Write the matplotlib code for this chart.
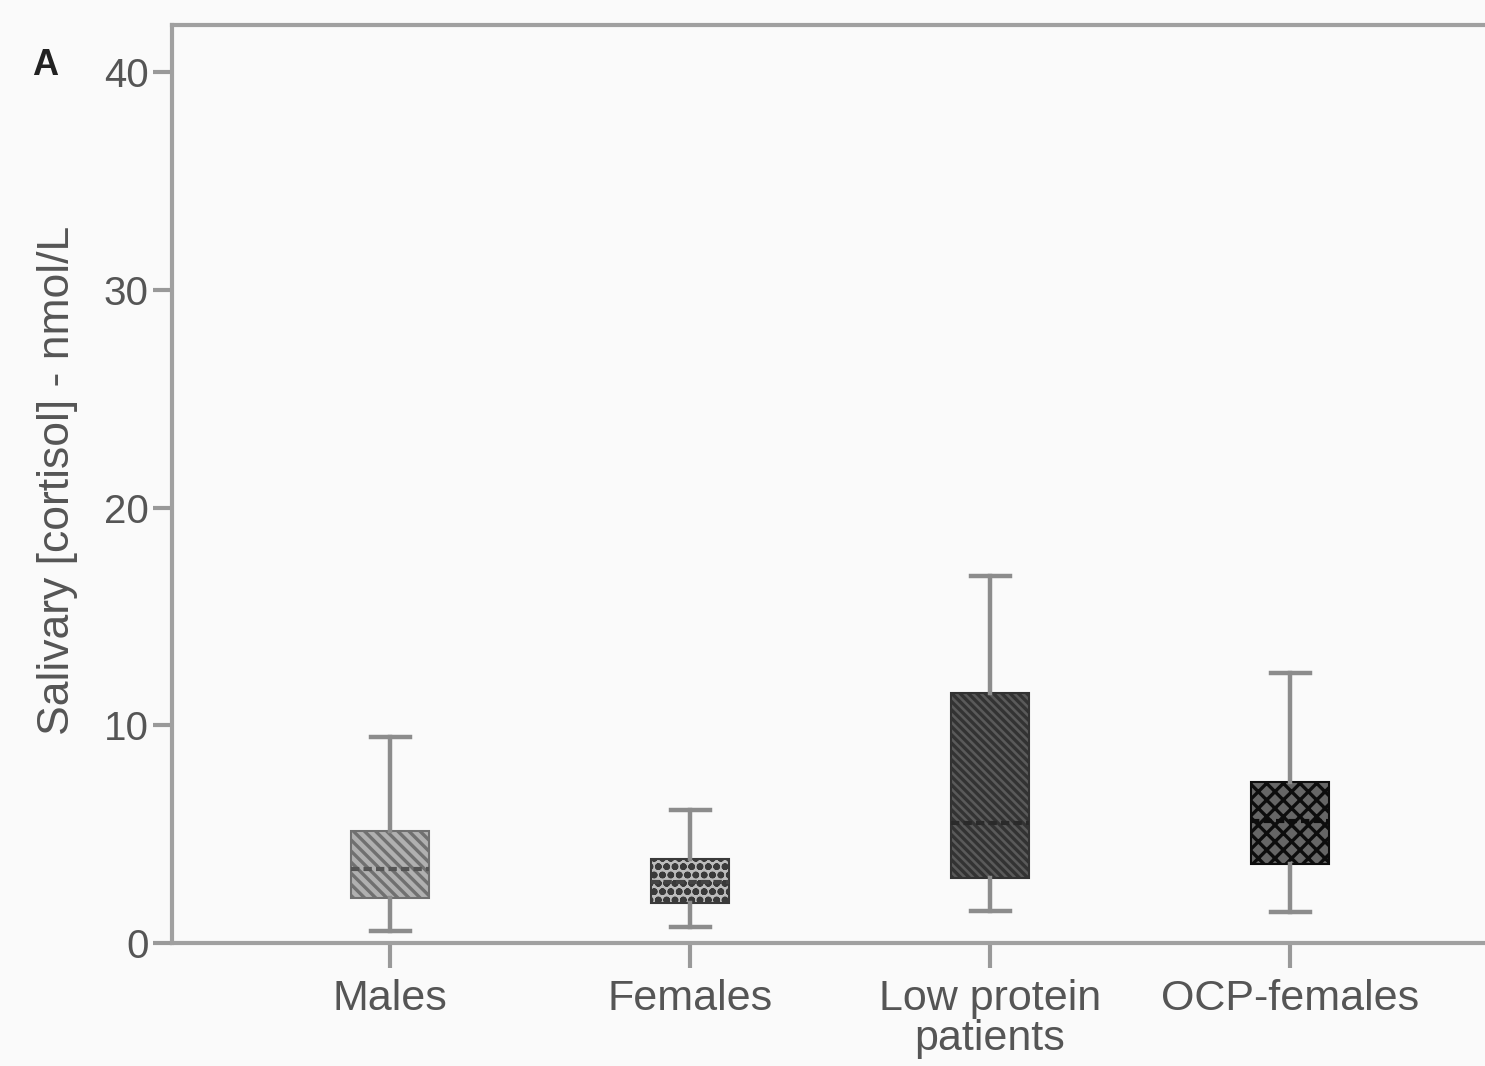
import matplotlib.pyplot as plt

groups = ["Males", "Females", "Low protein\npatients", "OCP-females"]
whisk_lo = [0.55, 0.73, 1.47, 1.42]
q1 = [2.07, 1.84, 2.98, 3.63]
medians = [3.4, 2.8, 5.51, 5.6]
q3 = [5.14, 3.86, 11.48, 7.39]
whisk_hi = [9.46, 6.1, 16.85, 12.4]
yticks = [0, 10, 20, 30, 40]

fills = ["#b0b0b0", "#bcbcbc", "#5a5a5a", "#666666"]
hatch_cols = ["#707070", "#3a3a3a", "#333333", "#0d0d0d"]
hatches = ["\\\\\\", "oo", "\\\\\\\\", "xx"]
med_cols = ["#555555", "#444444", "#2a2a2a", "#0d0d0d"]

plt.rcParams["font.family"] = ["Liberation Sans", "DejaVu Sans"]
plt.rcParams["hatch.linewidth"] = 2.4

W, H = 1485, 1066
ax_w = 1.05
fig = plt.figure(figsize=(W / 100, H / 100), dpi=100, facecolor="#fafafa")
ax = fig.add_axes([172 / W, 1 - 943 / H, ax_w, (943 - 25) / H])
ax.set_facecolor("#fafafa")

stats = []
for i, g in enumerate(groups):
    stats.append(dict(label=g, whislo=whisk_lo[i], q1=q1[i], med=medians[i],
                      q3=q3[i], whishi=whisk_hi[i], fliers=[]))

pos = list(range(1, len(groups) + 1))
line_col = "#8c8c8c"
bp = ax.bxp(stats, positions=pos, widths=0.26, capwidths=0.13, patch_artist=True,
            showfliers=False,
            whiskerprops=dict(color=line_col, linewidth=3.2),
            capprops=dict(color=line_col, linewidth=3.2),
            medianprops=dict(linewidth=3, linestyle=(0, (2, 1))))

for i, box in enumerate(bp["boxes"]):
    box.set_facecolor(fills[i])
    box.set_edgecolor(hatch_cols[i])
    box.set_hatch(hatches[i])
    box.set_linewidth(1.5)
    bp["medians"][i].set_color(med_cols[i])

# one group step = 300 px, first group at x = 390 px
ax.set_xlim(1 - (390 - 172) / 300, 1 + (172 + ax_w * W - 390) / 300)
ax.set_ylim(0, 42.16)
ax.set_yticks(yticks)
ax.set_xticks(pos)
ax.set_xticklabels(groups, fontsize=31, color="#555555", linespacing=1.0)
ax.tick_params(axis="y", labelsize=29, labelcolor="#555555", length=14, width=3,
               color="#999999", pad=3)
ax.tick_params(axis="x", length=18, width=3, color="#999999", pad=8)

for s in ax.spines.values():
    s.set_color("#a0a0a0")
    s.set_linewidth(3)

ax.set_ylabel("Salivary [cortisol] - nmol/L", fontsize=32, color="#555555")
ax.yaxis.set_label_coords((78 - 172) / (ax_w * W), (943 - 480) / (943 - 25))
fig.text(45 / W, 1 - 65 / H, "A", fontsize=26, fontweight="bold",
         ha="center", va="center", color="#222222")

fig.savefig("out.png", dpi=100, facecolor=fig.get_facecolor())
